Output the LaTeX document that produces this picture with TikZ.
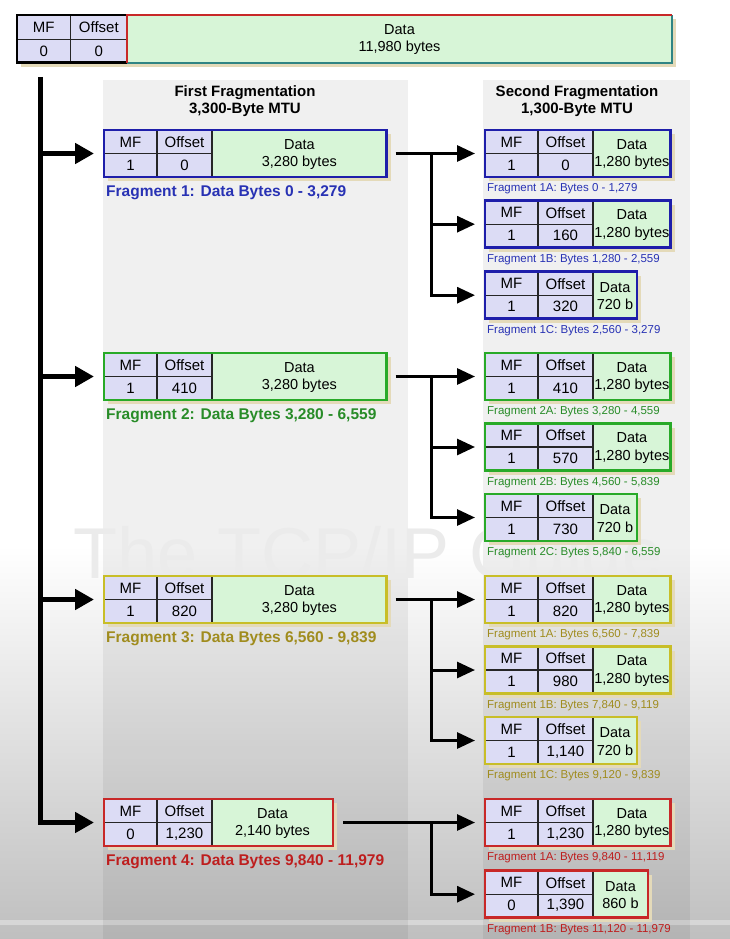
\documentclass[tikz,border=0pt]{standalone}
\usepackage{fontspec}
\setmainfont{Liberation Sans}
\usetikzlibrary{arrows.meta,calc}
\definecolor{blueC}{RGB}{30,30,170}
\definecolor{blueL}{RGB}{40,50,180}
\definecolor{greenC}{RGB}{40,170,40}
\definecolor{greenL}{RGB}{40,140,40}
\definecolor{yelC}{RGB}{200,190,40}
\definecolor{yelL}{RGB}{160,140,30}
\definecolor{redC}{RGB}{200,40,40}
\definecolor{redL}{RGB}{190,30,30}
\definecolor{hdrF}{RGB}{220,220,245}
\definecolor{dataF}{RGB}{215,245,215}
\definecolor{shadowC}{RGB}{228,218,185}
\definecolor{tealC}{RGB}{60,165,165}
\tikzset{
  pktbox/.style={inner sep=0pt, outer sep=0pt, minimum height=47pt, line width=2.5pt},
  cellline/.style={line width=1.4pt, black!85},
  celltxt/.style={font=\fontsize{15}{17}\selectfont, inner sep=0pt},
  datatxt/.style={font=\fontsize{14.5}{17.5}\selectfont, inner sep=0pt, align=center},
  labone/.style={font=\bfseries\fontsize{15.5}{18}\selectfont, inner sep=0pt, anchor=west},
  labtwo/.style={font=\fontsize{11.5}{13}\selectfont, inner sep=0pt, anchor=west},
  titletxt/.style={font=\bfseries\fontsize{15}{17}\selectfont, align=center, inner sep=0pt},
  conn/.style={line width=3pt, -{Triangle[length=18pt,width=16pt]}, shorten >=10pt},
  mainconn/.style={line width=5pt, -{Triangle[length=19pt,width=20pt]}, shorten >=10pt},
}
% #1 name, #2 x, #3 y, #4 width, #5 colour, #6 MF, #7 offset, #8 data text
\newcommand\pkt[8]{%
  \fill[shadowC] ({#2+4},{#3+4}) rectangle ({#2+#4+4},{#3+51});
  \fill[dataF] (#2,#3) rectangle ({#2+#4},{#3+47});
  \fill[hdrF] (#2,#3) rectangle ({#2+108},{#3+47});
  \draw[cellline] ({#2+53},#3) -- ({#2+53},{#3+47})
                  ({#2+108},#3) -- ({#2+108},{#3+47})
                  (#2,{#3+23.5}) -- ({#2+108},{#3+23.5});
  \node[pktbox, draw=#5, minimum width=#4pt, anchor=north west] (#1) at (#2,#3) {};
  \node[celltxt] (#1mf) at ({#2+26.5},{#3+12}) {MF};
  \node[celltxt] (#1of) at ({#2+80.5},{#3+12}) {Offset};
  \node[celltxt] (#1mv) at ({#2+26.5},{#3+35}) {#6};
  \node[celltxt] (#1ov) at ({#2+80.5},{#3+35}) {#7};
  \node[datatxt] (#1dt) at ({#2+108+(#4-108)/2},{#3+24.5}) {#8};
}
\newcommand\plabone[3]{\node[labone, text=#2] (#1lab) at ($(#1.south west)+(2,16)$) {#3};}
\newcommand\plabtwo[3]{\node[labtwo, text=#2] (#1lab) at ($(#1.south west)+(2,12)$) {#3};}
\begin{document}
\begin{tikzpicture}[x=1pt,y=-1pt]
\useasboundingbox (0,0) rectangle (730,939);
% background
\fill[white] (0,0) rectangle (730,939);
\shade[top color=white, bottom color=black!25] (0,545) rectangle (730,939);
\fill[white, opacity=0.35] (0,920) rectangle (730,925);
% panels
\fill[black, opacity=0.06] (103,80) rectangle (408,939);
\fill[black, opacity=0.06] (483,80) rectangle (690,939);
% watermark
\node[font=\fontsize{72}{72}\selectfont, text=black!8, inner sep=0pt] (wm) at (368,553) {The TCP/IP Guide};
% titles
\node[titletxt] (t1) at (245,101.5) {First Fragmentation\\3,300-Byte MTU};
\node[titletxt] (t2) at (577,101.5) {Second Fragmentation\\1,300-Byte MTU};
% original datagram
\fill[shadowC] (21,19) rectangle (676,67);
\fill[hdrF] (17,15) rectangle (127,62.7);
\fill[dataF] (127,15) rectangle (672,62.7);
\draw[cellline] (70.7,15) -- (70.7,62.7) (17,39.3) -- (127,39.3);
\draw[line width=2.5pt, black] (17,15) rectangle (127,62.7);
\node[inner sep=0pt, outer sep=0pt, minimum width=545pt, minimum height=47.7pt, anchor=north west] (orig) at (127,15) {};
\draw[line width=2pt, tealC!80!black] (orig.south west) -- (orig.south east) -- (orig.north east);
\draw[line width=2pt, redC] (orig.south west) -- (orig.north west) -- (orig.north east);
\node[celltxt] (origmf) at (43.8,27) {MF};
\node[celltxt] (origof) at (98.8,27) {Offset};
\node[celltxt] (origmv) at (43.8,51) {0};
\node[celltxt] (origov) at (98.8,51) {0};
\node[datatxt] (origdt) at (399.5,39.5) {Data\\11,980 bytes};
% first fragmentation
\pkt{fa}{104}{130}{282.7}{blueC}{1}{0}{Data\\3,280 bytes}
\pkt{fb}{104}{353}{282.7}{greenC}{1}{410}{Data\\3,280 bytes}
\pkt{fc}{104}{576}{282.7}{yelC}{1}{820}{Data\\3,280 bytes}
\pkt{fd}{104}{799}{229}{redC}{0}{1,230}{Data\\2,140 bytes}
\plabone{fa}{blueL}{Fragment 1: Data Bytes 0 - 3,279}
\plabone{fb}{greenL}{Fragment 2: Data Bytes 3,280 - 6,559}
\plabone{fc}{yelL}{Fragment 3: Data Bytes 6,560 - 9,839}
\plabone{fd}{redL}{Fragment 4: Data Bytes 9,840 - 11,979}
% second fragmentation
\pkt{faa}{485}{130}{185.7}{blueC}{1}{0}{Data\\1,280 bytes}
\pkt{fab}{485}{200.7}{185.7}{blueC}{1}{160}{Data\\1,280 bytes}
\pkt{fac}{485}{271.7}{152}{blueC}{1}{320}{Data\\720 b}
\pkt{fba}{485}{353}{185.7}{greenC}{1}{410}{Data\\1,280 bytes}
\pkt{fbb}{485}{423.5}{185.7}{greenC}{1}{570}{Data\\1,280 bytes}
\pkt{fbc}{485}{494}{152}{greenC}{1}{730}{Data\\720 b}
\pkt{fca}{485}{576}{185.7}{yelC}{1}{820}{Data\\1,280 bytes}
\pkt{fcb}{485}{646.5}{185.7}{yelC}{1}{980}{Data\\1,280 bytes}
\pkt{fcc}{485}{717}{152}{yelC}{1}{1,140}{Data\\720 b}
\pkt{fda}{485}{799}{185.7}{redC}{1}{1,230}{Data\\1,280 bytes}
\pkt{fdb}{485}{870.7}{163}{redC}{0}{1,390}{Data\\860 b}
\plabtwo{faa}{blueL}{Fragment 1A: Bytes 0 - 1,279}
\plabtwo{fab}{blueL}{Fragment 1B: Bytes 1,280 - 2,559}
\plabtwo{fac}{blueL}{Fragment 1C: Bytes 2,560 - 3,279}
\plabtwo{fba}{greenL}{Fragment 2A: Bytes 3,280 - 4,559}
\plabtwo{fbb}{greenL}{Fragment 2B: Bytes 4,560 - 5,839}
\plabtwo{fbc}{greenL}{Fragment 2C: Bytes 5,840 - 6,559}
\plabtwo{fca}{yelL}{Fragment 1A: Bytes 6,560 - 7,839}
\plabtwo{fcb}{yelL}{Fragment 1B: Bytes 7,840 - 9,119}
\plabtwo{fcc}{yelL}{Fragment 1C: Bytes 9,120 - 9,839}
\plabtwo{fda}{redL}{Fragment 1A: Bytes 9,840 - 11,119}
\plabtwo{fdb}{redL}{Fragment 1B: Bytes 11,120 - 11,979}
% main connectors
\coordinate (mtop) at (40,77);
\coordinate (ma) at (mtop |- fa.west);
\coordinate (mb) at (mtop |- fb.west);
\coordinate (mc) at (mtop |- fc.west);
\draw[mainconn] (mtop) |- (fd.west);
\draw[mainconn] (ma) -- (fa.west);
\draw[mainconn] (mb) -- (fb.west);
\draw[mainconn] (mc) -- (fc.west);
% second-level connectors
\foreach \g in {a,b,c}{
  \coordinate (br\g) at ($(f\g.east)+(45,0)$);
  \draw[conn, shorten <=9pt] (f\g.east) -- (f\g a.west);
  \draw[conn] (br\g) |- (f\g c.west);
  \draw[conn] (br\g) |- (f\g b.west);
}
\coordinate (brd) at (431.7,0 |- fd.east);
\draw[conn, shorten <=10pt] (fd.east) -- (fda.west);
\draw[conn] (brd) |- (fdb.west);
\end{tikzpicture}
\end{document}
